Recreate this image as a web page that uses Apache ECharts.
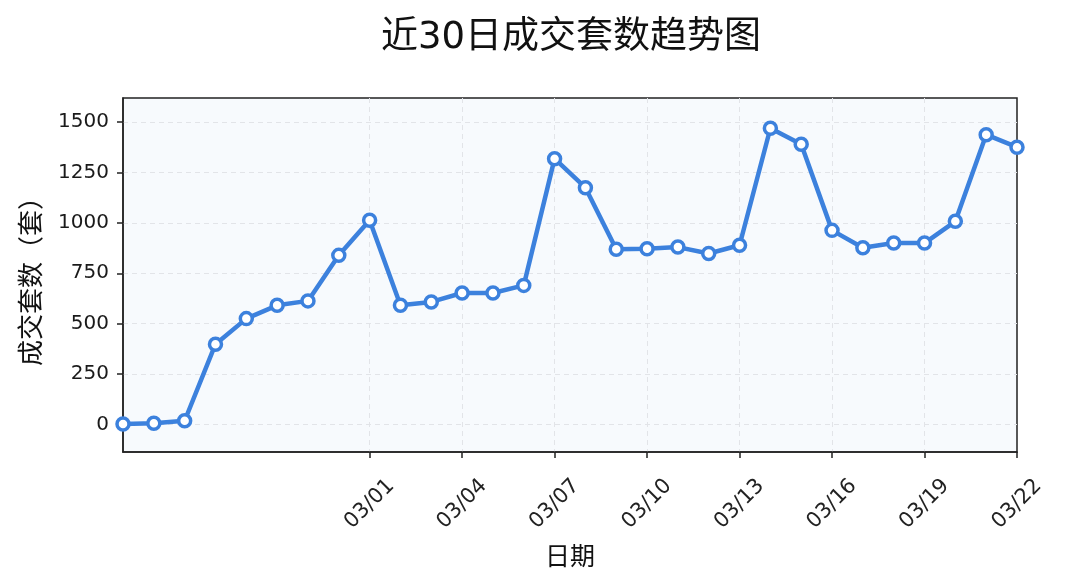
<!DOCTYPE html>
<html>
<head>
<meta charset="utf-8">
<script src="https://cdn.jsdelivr.net/npm/echarts@6/dist/echarts.min.js"></script>
<style>
html,body{margin:0;padding:0;background:#fff;}
#main{width:1065px;height:585px;}
</style>
</head>
<body>
<div id="main"></div>
<script>
const dates = ['02/21','02/22','02/23','02/24','02/25','02/26','02/27','02/28',
  '03/01','03/02','03/03','03/04','03/05','03/06','03/07','03/08','03/09','03/10',
  '03/11','03/12','03/13','03/14','03/15','03/16','03/17','03/18','03/19','03/20','03/21','03/22'];
const values = [2,6,18,398,525,591,613,839,1013,591,608,652,652,690,1319,1175,869,872,880,848,889,1470,1390,963,877,900,900,1008,1438,1376];
const xTickLabels = ['03/01','03/04','03/07','03/10','03/13','03/16','03/19','03/22'];
const yTickValues = [0,250,500,750,1000,1250,1500];
const titleText = '近30日成交套数趋势图';
const xName = '日期';
const yName = '成交套数（套）';

const tickFn = (idx) => xTickLabels.indexOf(dates[idx]) >= 0;
const splitFn = (idx) => tickFn(idx) && idx !== dates.length - 1;
const fontF = '"DejaVu Sans", "Noto Sans CJK SC", sans-serif';

const chart = echarts.init(document.getElementById('main'), null, {renderer:'canvas'});
chart.setOption({
  backgroundColor: '#ffffff',
  animation: false,
  title: {
    text: titleText,
    left: 566, textAlign: 'center',
    top: 15,
    textStyle: {fontFamily: fontF, fontSize: 37, fontWeight: 'normal', color: '#111'}
  },
  grid: {
    left: 123, right: 48, top: 98, bottom: 133,
    show: true, backgroundColor: '#f7fafd', borderColor: '#222', borderWidth: 1.5
  },
  xAxis: {
    type: 'category',
    data: dates,
    boundaryGap: false,
    name: xName,
    nameLocation: 'middle',
    nameGap: 94,
    nameTextStyle: {fontFamily: fontF, fontSize: 25, color: '#111'},
    axisLine: {show: true, onZero: false, lineStyle: {color: '#222', width: 1.5}},
    axisTick: {show: true, interval: tickFn, length: 6, lineStyle: {color: '#222', width: 1.5}},
    axisLabel: {
      interval: tickFn, rotate: 45, margin: 52,
      align: 'center', verticalAlign: 'middle',
      fontFamily: fontF, fontSize: 21, color: '#222'
    },
    splitLine: {show: true, interval: splitFn, lineStyle: {color: '#e2e4e8', type: [5,4], width: 1}}
  },
  yAxis: {
    type: 'value',
    min: -137, max: 1620,
    name: yName,
    nameLocation: 'middle',
    nameGap: 77,
    nameRotate: 90,
    nameTextStyle: {fontFamily: fontF, fontSize: 26, color: '#111'},
    axisLine: {show: true, lineStyle: {color: '#222', width: 1.5}},
    axisTick: {show: true, length: 6, customValues: yTickValues, lineStyle: {color: '#222', width: 1.5}},
    axisLabel: {customValues: yTickValues, margin: 14, fontFamily: fontF, fontSize: 20, color: '#1a1a1a',
      formatter: (v) => String(v)},
    splitLine: {show: true, customValues: yTickValues, lineStyle: {color: '#e2e4e8', type: [5,4], width: 1}}
  },
  series: [{
    type: 'line',
    data: values,
    symbol: 'circle',
    symbolSize: 12,
    showAllSymbol: true,
    lineStyle: {color: '#3c81dd', width: 4.5},
    itemStyle: {color: '#ffffff', borderColor: '#3c81dd', borderWidth: 3.5},
    clip: false
  }]
});
</script>
</body>
</html>
